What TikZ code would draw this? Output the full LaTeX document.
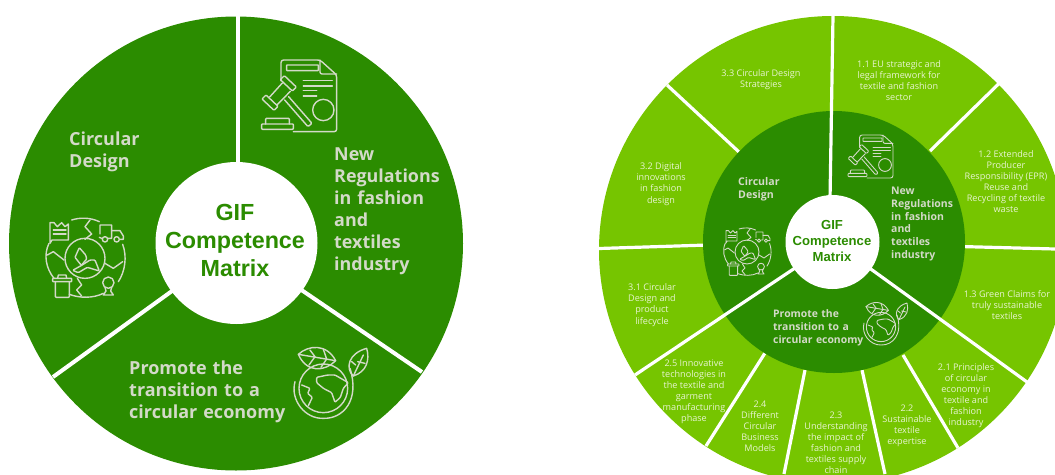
\documentclass[tikz,border=0pt]{standalone}
\usepackage{fontspec}
\setmainfont{Open Sans}
\newfontfamily\titlefont{Liberation Sans}
\definecolor{darkg}{HTML}{2B8C00}
\definecolor{lightg}{HTML}{76C500}
\definecolor{softw}{HTML}{D3DAC8}
\definecolor{smallw}{HTML}{E8F4D2}
\tikzset{
  sep/.style={white,line width=#1,line cap=butt},
  sep/.default=3.2,
  iconline/.style={softw,line width=#1,line join=round,line cap=round,fill=none},
  boldlabel/.style 2 args={text=softw,align=left,anchor=west,inner sep=0pt,font=\bfseries\fontsize{#1}{#2}\selectfont},
  small/.style={text=smallw,align=center,inner sep=0pt,font=\fontsize{9.1}{11.1}\selectfont},
  title/.style 2 args={text=darkg,align=center,inner sep=0pt,font=\titlefont\bfseries\fontsize{#1}{#2}\selectfont},
  gavelicon/.pic={
    \draw[rounded corners=2.5] (78,92)--(78,30)--(195,30)--(245,75)--(245,245)--(115,245);
    \draw[rounded corners=2] (195,30)--(195,72)--(245,72);
    \draw[rounded corners=.5] (95,45) rectangle (190,62);
    \draw (145,92)--(232,92) (145,108)--(232,108) (145,122)--(185,122) (145,138)--(185,138);
    \draw (205,180) circle (32);
    \draw[rounded corners=.8] (88,77)--(76,89)--(112,123)--(124,111)--cycle;
    \draw[rounded corners=.8] (33,135)--(21,147)--(57,181)--(69,169)--cycle;
    \draw (82,99)--(44,141) (106,124)--(66,165);
    \draw[rounded corners=1.2] (89,150)--(159,230)--(171,220)--(101,140);
    \draw[rounded corners=.8] (32,222)--(32,205)--(103,205)--(103,222);
    \draw[rounded corners=.8] (20,222) rectangle (115,238);
  },
  globeicon/.pic={
    \draw (95,30) .. controls (120,22) and (150,22) .. (178,35);
    \draw (27,100) .. controls (10,135) and (18,175) .. (42,205);
    \draw (88,253) .. controls (120,265) and (160,265) .. (190,250);
    \draw (248,103) .. controls (262,140) and (255,185) .. (235,215);
    \draw (135,145) circle (60);
    \draw (150,30)--(135,50)--(155,72)--(135,88);
    \draw (22,135)--(40,125)--(72,150);
    \draw (195,160)--(220,175)--(248,155);
    \draw (112,205)--(125,225)--(110,240)--(125,258);
    \draw (30,100)--(36,90)--(85,90)--(85,42)--(75,50)--(65,38)--(52,50)--(42,38)--(30,38)--(30,100);
    \draw (40,60)--(78,60) (40,72)--(78,72);
    \draw (180,72)--(180,45)--(215,45)--(215,85)--(205,85) (185,85)--(178,82);
    \draw (215,62)--(240,62)--(250,78)--(250,88)--(240,88);
    \draw (195,88) circle (8) (230,88) circle (8);
    \draw[rounded corners=.8] (46,215)--(46,262)--(88,262)--(88,215);
    \draw[rounded corners=.5] (38,205) rectangle (95,215);
    \draw (53,205)--(55,195)--(78,195)--(80,205);
    \draw (205,218) circle (17);
    \draw (195,232)--(198,243)--(190,255)--(220,255)--(212,243)--(215,232);
    \draw[rounded corners=.8] (118,113)--(137,135)--(140,147)--(124,166)--(105,142)--cycle;
    \draw[rounded corners=1] (98,181)--(125,166)--(150,150)--(165,150)--(178,183)--(142,172)--(115,188)--cycle;
  },
  earthicon/.pic={
    \draw (115,145) circle (73);
    \draw (30,125) .. controls (15,180) and (60,237) .. (115,235) .. controls (175,237) and (225,180) .. (195,85);
    \draw (40,43) .. controls (70,15) and (125,10) .. (152,62) .. controls (120,95) and (65,100) .. (40,43);
    \draw (40,43)--(152,62);
    \draw (75,30)--(90,50)--(72,75) (115,28)--(125,57)--(108,82);
    \draw (245,25) .. controls (190,40) and (180,85) .. (205,108) .. controls (245,95) and (255,60) .. (245,25);
    \draw (205,108)--(235,45) (212,75)--(200,65) (218,65)--(240,70);
    \draw[rounded corners=1] (95,112)--(128,105)--(150,105)--(190,128)--(175,145)--(166,172)--(150,187)--(140,158)--(115,145)--(95,128)--cycle;
    \draw[rounded corners=1] (50,135)--(75,145)--(68,160)--(82,172)--(70,197);
  }
}
\begin{document}
\begin{tikzpicture}[x=1pt,y=-1pt]
\useasboundingbox (0,0) rectangle (1055,474);
% left wheel
\fill[darkg] (236,243.5) circle (227);
\draw[sep=4] (237.5,16)--(237.5,170);
\draw[sep=4] (172,291)--(53,377);
\draw[sep=4] (300,289)--(422,372);
\fill[white] (236.5,243) circle (81);
\node[title={23.3}{28}] (lcentre) at (235,240.5) {GIF\\Competence\\Matrix};
\node[boldlabel={18}{22},text width=90pt] (lcirc) at (69,151.5) {Circular\\Design};
\node[boldlabel={17.9}{22},text width=120pt] (lreg) at (334,211) {New\\Regulations\\in fashion\\and\\textiles\\industry};
\node[boldlabel={18}{22},text width=170pt] (lprom) at (129,392) {Promote the\\transition to a\\circular economy};
\pic[scale=1/3,iconline=1.4] at (255,50) {gavelicon};
\pic[scale=1/3,iconline=1.4] at (40,210) {globeicon};
\pic[scale=1/3,iconline=1.4] at (285,340) {earthicon};
% right wheel
\begin{scope}
\clip (590,0) rectangle (1055,474);
\fill[lightg] (833,250) circle (234);
\draw[sep] (930,151)--(998.5,84);
\draw[sep] (960,246.5)--(1055,249);
\draw[sep] (903,355)--(958,448);
\draw[sep] (862,370)--(885,474);
\draw[sep] (805,370)--(784,474);
\draw[sep] (765,353)--(706,446);
\draw[sep] (708,245)--(599,248.5);
\draw[sep] (739,152)--(667,85);
\fill[darkg] (834,242) circle (131);
\draw[sep] (833,16)--(830,200);
\draw[sep] (868,267)--(1027,382);
\draw[sep] (798,266)--(635,375);
\fill[white] (832.5,242) circle (47);
\end{scope}
\node[title={13.1}{16}] (rcentre) at (832,240.5) {GIF\\Competence\\Matrix};
\node[boldlabel={10.6}{12.8},text width=50pt] (rcirc) at (738,189.5) {Circular\\Design};
\node[boldlabel={10.5}{12.8},text width=70pt] (rreg) at (891,224) {New\\Regulations\\in fashion\\and\\textiles\\industry};
\node[boldlabel={10.4}{12.8},text width=100pt] (rprom) at (773,328) {Promote the\\transition to a\\circular economy};
\node[small] (s33) at (761,80) {3.3 Circular Design\\Strategies};
\node[small] (s32) at (661,184) {3.2 Digital\\innovations\\in fashion\\design};
\node[small] (s31) at (652,305) {3.1 Circular\\Design and\\product\\lifecycle};
\node[small] (s25) at (694,391.5) {2.5 Innovative\\technologies in\\the textile and\\garment\\manufacturing\\phase};
\node[small] (s24) at (760,426) {2.4\\Different\\Circular\\Business\\Models};
\node[small] (s23) at (836,442.5) {2.3\\Understanding\\the impact of\\fashion and\\textiles supply\\chain};
\node[small] (s22) at (907,426) {2.2\\Sustainable\\textile\\expertise};
\node[small] (s21) at (966,395.5) {2.1 Principles\\of circular\\economy in\\textile and\\fashion\\industry};
\node[small] (s13) at (1007,305) {1.3 Green Claims for\\truly sustainable\\textiles};
\node[small] (s12) at (1006,181.5) {1.2 Extended\\Producer\\Responsibility (EPR)\\Reuse and\\Recycling of textile\\waste};
\node[small] (s11) at (899,80.5) {1.1 EU strategic and\\legal framework for\\textile and fashion\\sector};
\pic[scale=0.2,iconline=0.9] at (844,129) {gavelicon};
\pic[scale=0.2,iconline=0.9] at (720,223) {globeicon};
\pic[scale=0.2,iconline=0.9] at (858,298) {earthicon};
\end{tikzpicture}
\end{document}
